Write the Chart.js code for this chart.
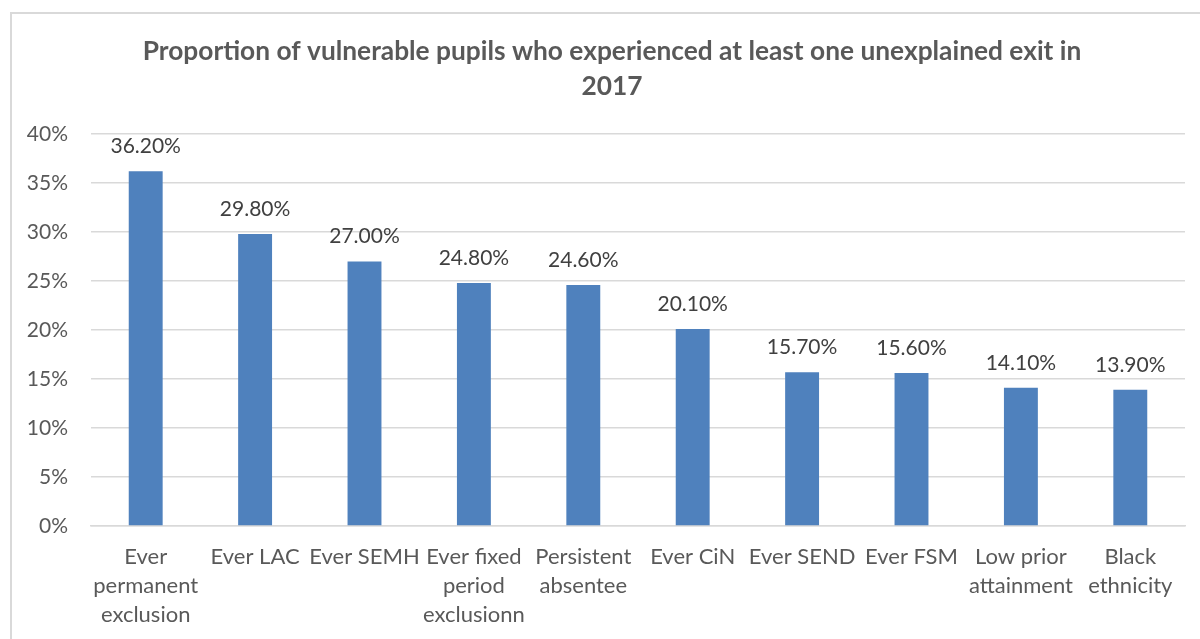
<!DOCTYPE html>
<html>
<head>
<meta charset="utf-8">
<script src="https://cdn.jsdelivr.net/npm/chart.js@4"></script>
<style>
html,body{margin:0;padding:0;background:#fff;}
#wrap{width:1200px;height:639px;position:relative;}
</style>
</head>
<body>
<div id="wrap"><canvas id="c" width="1200" height="639"></canvas></div>
<script>
const categories = [
  ["Ever","permanent","exclusion"],
  ["Ever LAC"],
  ["Ever SEMH"],
  ["Ever fixed","period","exclusionn"],
  ["Persistent","absentee"],
  ["Ever CiN"],
  ["Ever SEND"],
  ["Ever FSM"],
  ["Low prior","attainment"],
  ["Black","ethnicity"]
];
const values = [36.2, 29.8, 27.0, 24.8, 24.6, 20.1, 15.7, 15.6, 14.1, 13.9];
const titleLines = ["Proportion of vulnerable pupils who experienced at least one unexplained exit in", "2017"];
const yMin = 0, yMax = 40, yStep = 5;

const FONT = "Lato, 'Open Sans', sans-serif";

const frame = {
  id: 'frame',
  afterLayout(chart) {
    if (chart.titleBlock) { chart.titleBlock.left += 29; }
  },
  beforeDraw(chart) {
    const ctx = chart.ctx;
    ctx.save();
    ctx.fillStyle = '#fff';
    ctx.fillRect(0, 0, chart.width, chart.height);
    ctx.strokeStyle = '#d9d9d9';
    ctx.lineWidth = 2;
    ctx.strokeRect(11, 13, 1400, 800);
    ctx.restore();
  }
};

const dataLabels = {
  id: 'dataLabels',
  afterDatasetsDraw(chart) {
    const ctx = chart.ctx;
    const meta = chart.getDatasetMeta(0);
    ctx.save();
    ctx.font = '21px ' + FONT;
    ctx.fillStyle = '#404040';
    ctx.textAlign = 'center';
    ctx.textBaseline = 'middle';
    meta.data.forEach((bar, i) => {
      ctx.fillText(values[i].toFixed(2) + '%', bar.x, bar.y - 25);
    });
    ctx.restore();
  }
};

new Chart(document.getElementById('c'), {
  type: 'bar',
  data: {
    labels: categories,
    datasets: [{
      data: values,
      backgroundColor: '#4f81bd',
      borderWidth: 0,
      barPercentage: 0.31,
      categoryPercentage: 1
    }]
  },
  options: {
    responsive: false,
    animation: false,
    layout: { padding: { left: 10, right: 15, top: 13, bottom: 0 } },
    plugins: {
      legend: { display: false },
      tooltip: { enabled: false },
      title: {
        display: true,
        text: titleLines,
        color: '#595959',
        font: { family: FONT, size: 26.3, weight: 'bold', lineHeight: 35/26.3 },
        padding: { top: 21.5, bottom: 29.5 }
      }
    },
    scales: {
      x: {
        grid: { display: false, drawTicks: false },
        border: { display: true, color: '#d9d9d9', width: 1.5 },
        ticks: {
          color: '#595959',
          font: { family: FONT, size: 22, lineHeight: 29/22 },
          padding: 16,
          maxRotation: 0,
          autoSkip: false
        },
        afterFit(scale) { scale.height = 113; }
      },
      y: {
        min: yMin, max: yMax,
        grid: { color: '#d9d9d9', lineWidth: 1.5, drawTicks: false },
        border: { display: false },
        ticks: {
          stepSize: yStep,
          color: '#595959',
          font: { family: FONT, size: 21 },
          padding: 23,
          callback: v => v + '%'
        },
        afterFit(scale) { scale.width = 81; }
      }
    }
  },
  plugins: [frame, dataLabels]
});
</script>
</body>
</html>
